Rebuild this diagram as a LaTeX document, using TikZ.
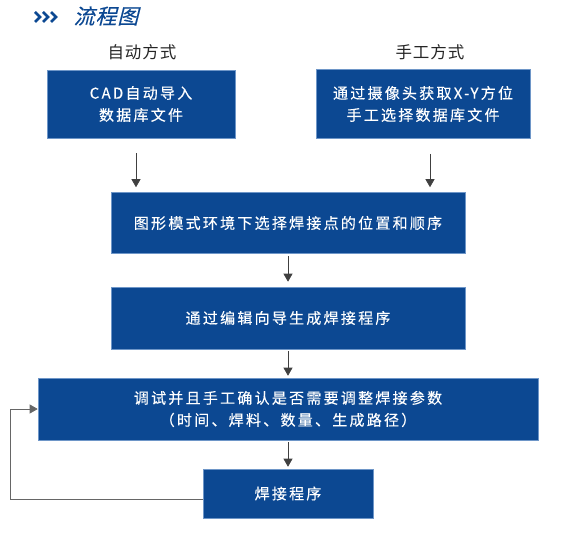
\documentclass[tikz,border=0pt]{standalone}
\usepackage{fontspec}
\setmainfont{Noto Sans CJK SC}
\newfontfamily\boxfont[LetterSpace=15,FakeBold=0.3]{Noto Sans CJK SC}
\newfontfamily\hdrfont[LetterSpace=6]{Noto Sans CJK SC}
\newfontfamily\titlefont[FakeSlant=0.25,LetterSpace=4,FakeBold=0.3]{Noto Sans CJK SC}
\usetikzlibrary{arrows.meta}
\definecolor{flowblue}{RGB}{12,72,146}
\definecolor{edgeblue}{RGB}{110,150,200}

\begin{document}
\begin{tikzpicture}[x=1pt,y=-1pt,>={Triangle[length=8pt,width=9pt]},
  flowbox/.style={rectangle,draw=edgeblue,line width=0.6pt,fill=flowblue,text=white,
    align=center,inner sep=0pt,font=\boxfont\fontsize{15}{22}\selectfont},
  hdr/.style={inner sep=0pt,text=black!85,font=\hdrfont\fontsize{16.5}{18}\selectfont},
  arr/.style={->,draw=black!75,line width=0.7pt}]
  \useasboundingbox (0,0) rectangle (564,535);
  % title
  \foreach \cx in {35,43,51}
    \draw[flowblue,line width=2.8pt] (\cx,12) -- (\cx+5,17) -- (\cx,22);
  \node[inner sep=0pt,text=flowblue,font=\titlefont\fontsize{21}{22}\selectfont] (title) at (106,16) {流程图};
  % headers
  \node[hdr] (autohdr) at (142,52) {自动方式};
  \node[hdr] (manhdr) at (430,52) {手工方式};
  % boxes
  \node[flowbox,minimum width=188pt,minimum height=68pt] (cad) at (141,104) {CAD自动导入\\数据库文件};
  \node[flowbox,minimum width=214pt,minimum height=69pt] (cam) at (423,104) {通过摄像头获取X-Y方位\\手工选择数据库文件};
  \node[flowbox,minimum width=354pt,minimum height=61pt] (pick) at (288,223) {图形模式环境下选择焊接点的位置和顺序};
  \node[flowbox,minimum width=354pt,minimum height=62pt] (wizard) at (288,318) {通过编辑向导生成焊接程序};
  \node[flowbox,minimum width=500pt,minimum height=62pt] (debug) at (288,409) {调试并且手工确认是否需要调整焊接参数\\（时间、焊料、数量、生成路径）};
  \node[flowbox,minimum width=170pt,minimum height=49pt] (prog) at (288,493.5) {焊接程序};
  % connectors
  \coordinate (loop) at (10,0);
  \draw[arr,shorten <=15pt,shorten >=5pt] ([xshift=-5pt]cad.south) -- ([xshift=-5pt]cad.south |- pick.north);
  \draw[arr,shorten <=15pt,shorten >=5pt] ([xshift=7pt]cam.south) -- ([xshift=7pt]cam.south |- pick.north);
  \draw[arr,shorten <=2pt,shorten >=5pt] (pick) -- (wizard);
  \draw[arr,shorten <=2pt,shorten >=2pt] (wizard) -- (debug);
  \draw[arr,shorten <=2pt,shorten >=2pt] (debug) -- (prog);
  \draw[arr,draw=black!60] ([yshift=-6pt]prog.west) -| (loop |- debug.west) -- (debug.west);
\end{tikzpicture}
\end{document}
